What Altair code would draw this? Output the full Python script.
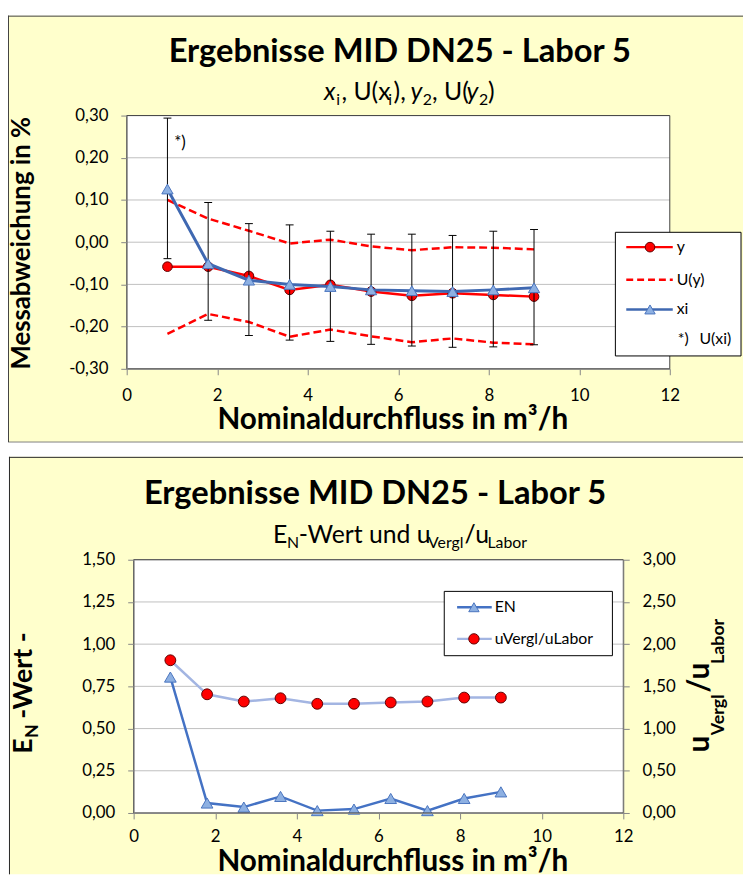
import altair as alt
import pandas as pd

# ---------------- data ----------------
flow = [0.9, 1.8, 2.7, 3.6, 4.5, 5.4, 6.3, 7.2, 8.1, 9.0]
y_lab = [-0.058, -0.058, -0.080, -0.113, -0.101, -0.117, -0.127, -0.121, -0.125, -0.129]
u_y_upper = [0.100, 0.056, 0.027, -0.003, 0.006, -0.010, -0.019, -0.012, -0.013, -0.017]
u_y_lower = [-0.217, -0.170, -0.189, -0.224, -0.207, -0.223, -0.237, -0.228, -0.238, -0.242]
xi_ref = [0.126, -0.051, -0.090, -0.100, -0.105, -0.113, -0.115, -0.117, -0.113, -0.108]
u_xi_upper = [0.294, 0.094, 0.044, 0.041, 0.026, 0.019, 0.019, 0.016, 0.026, 0.030]
u_xi_lower = [-0.039, -0.185, -0.221, -0.232, -0.235, -0.242, -0.246, -0.249, -0.248, -0.243]
en_value = [0.805, 0.059, 0.035, 0.098, 0.014, 0.023, 0.086, 0.014, 0.086, 0.125]
u_ratio = [1.809, 1.406, 1.320, 1.359, 1.293, 1.293, 1.309, 1.320, 1.367, 1.367]

x_ticks = [0, 2, 4, 6, 8, 10, 12]
y_ticks_top = [-0.3, -0.2, -0.1, 0.0, 0.1, 0.2, 0.3]
y_ticks_en = [0.0, 0.25, 0.5, 0.75, 1.0, 1.25, 1.5]
y_ticks_ratio = [0.0, 0.5, 1.0, 1.5, 2.0, 2.5, 3.0]

# ---------------- canvas / panel geometry (pixels inside the view) ----------------
W, H = 743, 871
TOP_PLOT = (120, 669, 104, 360)      # x1, x2, y1, y2
BOT_PLOT = (127, 622, 553, 809)

FONT = "Lato"
AX = "#868686"
YELLOW = "#FFFFCC"
GRID = "#BFBFBF"
RED = "#FF0000"
RED_EDGE = "#600000"
BLUE = "#3F68B1"
TRI_FILL = "#8DB0E2"
TRI_EDGE = "#4A74BE"
LIGHT_BLUE = "#A3B5E2"
ONE = pd.DataFrame({"d": [0]})
LBL = "replace(replace(format(datum.value, '.2f'), '.', ','), '\u2212', '-')"

CW = {' ': 0.193, ',': 0.196, '(': 0.294, ')': 0.294, '*': 0.375, '-': 0.362, '/': 0.366,
      '2': 0.58, 'E': 0.565, 'L': 0.491, 'N': 0.743, 'U': 0.713, 'V': 0.69, 'W': 1.02,
      'a': 0.491, 'b': 0.56, 'd': 0.56, 'e': 0.516, 'g': 0.498, 'i': 0.33, 'l': 0.236,
      'n': 0.558, 'o': 0.558, 'r': 0.368, 't': 0.345, 'u': 0.558, 'x': 0.5, 'y': 0.5}


def tw(s, size, bold=False):
    return sum(CW.get(c, 0.55) for c in s) * size * (1.04 if bold else 1.0)


def txt(s, x, y, size, weight="normal", style="normal", align="left",
        baseline="alphabetic", angle=0, color="#000000"):
    kw = dict(text=s, align=align, baseline=baseline, font=FONT, fontSize=size,
              fontWeight=weight, fontStyle=style, color=color)
    if angle:
        kw["angle"] = angle
    return alt.Chart(ONE).mark_text(**kw).encode(x=alt.value(x), y=alt.value(y))


def rich(pieces, center, base, angle=0):
    total = sum(tw(p[0], p[1], p[2] == "bold") for p in pieces)
    pos = -total / 2
    out = []
    for t, size, weight, style, dy in pieces:
        lead = len(t) - len(t.lstrip(" "))
        off = pos + tw(" " * lead, size, weight == "bold")
        s = t.strip(" ")
        if s:
            if angle == 0:
                out.append(txt(s, center + off, base + dy, size, weight, style))
            else:
                out.append(txt(s, base + dy, center - off, size, weight, style, angle=270))
        pos += tw(t, size, weight == "bold")
    return out


def hline(x1, x2, y, color, width=1.0, dash=None):
    kw = dict(color=color, strokeWidth=width)
    if dash:
        kw["strokeDash"] = dash
    return alt.Chart(ONE).mark_rule(**kw).encode(x=alt.value(x1), x2=alt.value(x2), y=alt.value(y))


def vline(x, y1, y2, color, width=1.0):
    return alt.Chart(ONE).mark_rule(color=color, strokeWidth=width).encode(
        x=alt.value(x), y=alt.value(y1), y2=alt.value(y2))


def box(x1, x2, y1, y2, fill, stroke=None):
    kw = dict(fill=fill)
    if stroke:
        kw.update(stroke=stroke, strokeWidth=1)
    else:
        kw.update(strokeWidth=0)
    return alt.Chart(ONE).mark_rect(**kw).encode(
        x=alt.value(x1), x2=alt.value(x2), y=alt.value(y1), y2=alt.value(y2))


def frame(p, stroke):
    return alt.Chart(ONE).mark_rect(fill="#FFFFFF", fillOpacity=0, stroke=stroke, strokeWidth=1).encode(
        x=alt.value(p[0]), x2=alt.value(p[1]), y=alt.value(p[2]), y2=alt.value(p[3]))


def marker(x, y, shape, size, fill, stroke):
    return alt.Chart(ONE).mark_point(shape=shape, filled=True, size=size, fill=fill, stroke=stroke,
                                     strokeWidth=1, opacity=1).encode(x=alt.value(x), y=alt.value(y))


def xaxis(y_pos, pad):
    return alt.Axis(values=x_ticks, format="d", title=None, grid=False, zindex=1, orient="bottom",
                    offset=y_pos - H, labelFont=FONT, labelFontSize=17, labelColor="#000000",
                    tickSize=6, tickColor=AX, domainColor=AX, labelPadding=pad, labelFlush=False)


def yaxis(vals, orient, offset):
    return alt.Axis(values=vals, labelExpr=LBL, title=None, grid=False, zindex=1, orient=orient,
                    offset=offset, labelFont=FONT, labelFontSize=17, labelColor="#000000",
                    tickSize=6, tickColor=AX, domainColor=AX, labelPadding=13)


# scales: each panel gets its own pixel range inside the single view
XT = alt.Scale(domain=[0, 12], range=[TOP_PLOT[0], TOP_PLOT[1]], nice=False, zero=False)
YT = alt.Scale(domain=[-0.3, 0.3], range=[TOP_PLOT[3], TOP_PLOT[2]], nice=False, zero=False)
XB = alt.Scale(domain=[0, 12], range=[BOT_PLOT[0], BOT_PLOT[1]], nice=False, zero=False)
YE = alt.Scale(domain=[0, 1.5], range=[BOT_PLOT[3], BOT_PLOT[2]], nice=False, zero=False)
YR = alt.Scale(domain=[0, 3], range=[BOT_PLOT[3], BOT_PLOT[2]], nice=False, zero=False)

AX_XT = xaxis(TOP_PLOT[3], 13)
AX_YT = yaxis(y_ticks_top, "left", -TOP_PLOT[0])
AX_XB = xaxis(BOT_PLOT[3], 10)
AX_YE = yaxis(y_ticks_en, "left", -BOT_PLOT[0])
AX_YR = yaxis(y_ticks_ratio, "right", BOT_PLOT[1] - W)


def xt(axis=False):
    return alt.X("q:Q", scale=XT, axis=AX_XT if axis else None)


def yt(f, axis=False):
    return alt.Y(f"{f}:Q", scale=YT, axis=AX_YT if axis else None)


df_top = pd.DataFrame({"q": flow, "y": y_lab, "uh": u_y_upper, "ul": u_y_lower,
                       "xi": xi_ref, "eh": u_xi_upper, "el": u_xi_lower})
df_bot = pd.DataFrame({"q": flow, "en": en_value, "ratio": u_ratio})
base_top = alt.Chart(df_top)

layers = []
# ---------------- top panel ----------------
layers += [
    box(0, W, 3, 434, YELLOW),
    hline(0, W, 3.5, "#404040"),
    hline(0, W, 434, "#7F7F7F"),
    vline(0.5, 3, 434, "#404040"),
    box(TOP_PLOT[0], TOP_PLOT[1], TOP_PLOT[2], TOP_PLOT[3], "#FFFFFF"),
    alt.Chart(pd.DataFrame({"g": y_ticks_top})).mark_rule(color=GRID, strokeWidth=1).encode(
        y=yt("g", True), x=alt.value(TOP_PLOT[0]), x2=alt.value(TOP_PLOT[1])),
    base_top.mark_line(color=RED, strokeWidth=2.5, strokeDash=[8, 4]).encode(x=xt(True), y=yt("uh")),
    base_top.mark_line(color=RED, strokeWidth=2.5, strokeDash=[8, 4]).encode(x=xt(), y=yt("ul")),
    base_top.mark_line(color=RED, strokeWidth=2.5).encode(x=xt(), y=yt("y")),
    base_top.mark_point(shape="circle", filled=True, size=95, fill=RED, stroke=RED_EDGE,
                        strokeWidth=1, opacity=1).encode(x=xt(), y=yt("y")),
    base_top.mark_rule(color="#000000", strokeWidth=1).encode(x=xt(), y=yt("el"), y2="eh:Q"),
    base_top.mark_tick(orient="horizontal", size=8, thickness=1, color="#000000", opacity=1).encode(
        x=xt(), y=yt("eh")),
    base_top.mark_tick(orient="horizontal", size=8, thickness=1, color="#000000", opacity=1).encode(
        x=xt(), y=yt("el")),
    base_top.mark_line(color=BLUE, strokeWidth=3).encode(x=xt(), y=yt("xi")),
    base_top.mark_point(shape="triangle-up", filled=True, size=130, fill=TRI_FILL, stroke=TRI_EDGE,
                        strokeWidth=1, opacity=1).encode(x=xt(), y=yt("xi")),
    frame(TOP_PLOT, "#404040"),
    txt("*)", 168, 137, 17),
    # legend
    box(614, 741, 222, 347, "#FFFFFF", "#000000"),
    hline(625, 672, 237, RED, 2.5),
    marker(649, 237, "circle", 95, RED, RED_EDGE),
    txt("y", 676, 237, 16, baseline="middle"),
    hline(625, 672, 270, RED, 2.5, [7, 4]),
    txt("U(y)", 676, 270, 16, baseline="middle"),
    hline(625, 672, 300, BLUE, 2.5),
    marker(649, 300, "triangle-up", 110, TRI_FILL, TRI_EDGE),
    txt("xi", 676, 300, 16, baseline="middle"),
    txt("*)", 677, 330, 16, baseline="middle"),
    txt("U(xi)", 699, 330, 16, baseline="middle"),
    # titles
    txt("Ergebnisse MID DN25 - Labor 5", 396, 40, 33, "bold", align="center", baseline="middle"),
    txt("Messabweichung in %", 14, 233, 26, "bold", align="center", baseline="middle", angle=270),
    txt("Nominaldurchfluss in m\u00b3/h", 389, 412, 30, "bold", align="center", baseline="middle"),
]
layers += rich([
    ("x", 25, "normal", "italic", 0), ("i", 16, "normal", "normal", 5),
    (", U(x", 25, "normal", "normal", 0), ("i", 16, "normal", "normal", 5),
    ("), ", 25, "normal", "normal", 0), ("y", 25, "normal", "italic", 0),
    ("2", 16, "normal", "normal", 5), (", U(", 25, "normal", "normal", 0),
    ("y", 25, "normal", "italic", 0), ("2", 16, "normal", "normal", 5),
    (")", 25, "normal", "normal", 0)], 406, 88)

# ---------------- bottom panel ----------------
layers += [
    box(1, W, 449, H, YELLOW),
    hline(1, W, 449.5, "#262626"),
    vline(1.5, 449, H, "#262626"),
    box(BOT_PLOT[0], BOT_PLOT[1], BOT_PLOT[2], BOT_PLOT[3], "#FFFFFF"),
    alt.Chart(pd.DataFrame({"g": y_ticks_en})).mark_rule(color=GRID, strokeWidth=1).encode(
        y=alt.Y("g:Q", scale=YE, axis=None), x=alt.value(BOT_PLOT[0]), x2=alt.value(BOT_PLOT[1])),
    alt.Chart(df_bot).mark_line(
        color="#4472C4", strokeWidth=2.5,
        point=alt.OverlayMarkDef(shape="triangle-up", filled=True, size=140, fill=TRI_FILL,
                                 stroke=TRI_EDGE, strokeWidth=1, opacity=1)).encode(
        x=alt.X("q:Q", scale=XB, axis=AX_XB),
        y=alt.Y("en:Q", scale=YE, axis=AX_YE)),
    alt.Chart(df_bot).mark_line(
        color=LIGHT_BLUE, strokeWidth=2.5,
        point=alt.OverlayMarkDef(shape="circle", filled=True, size=120, fill=RED,
                                 stroke=RED_EDGE, strokeWidth=1, opacity=1)).encode(
        x=alt.X("q:Q", scale=XB, axis=None),
        y=alt.Y("ratio:Q", scale=YR, axis=AX_YR)),
    frame(BOT_PLOT, "#404040"),
    # legend
    box(441, 611, 585, 650, "#FFFFFF", "#000000"),
    hline(454, 489, 601, "#4472C4", 2.5),
    marker(471, 601, "triangle-up", 110, TRI_FILL, TRI_EDGE),
    txt("EN", 492, 601, 16, baseline="middle"),
    hline(454, 489, 633, LIGHT_BLUE, 2.5),
    marker(471, 633, "circle", 110, RED, RED_EDGE),
    txt("uVergl/uLabor", 492, 633, 16, baseline="middle"),
    # titles
    txt("Ergebnisse MID DN25 - Labor 5", 371, 487, 33, "bold", align="center", baseline="middle"),
    txt("Nominaldurchfluss in m\u00b3/h", 389, 859, 30, "bold", align="center", baseline="middle"),
]
layers += rich([
    ("E", 25, "normal", "normal", 0), ("N", 16, "normal", "normal", 5),
    ("-Wert und u", 25, "normal", "normal", 0), ("Vergl", 16, "normal", "normal", 5),
    ("/u", 25, "normal", "normal", 0), ("Labor", 16, "normal", "normal", 5)], 396, 536)
layers += rich([
    ("E", 27, "bold", "normal", 0), ("N", 18, "bold", "normal", 6),
    (" -Wert -", 27, "bold", "normal", 0)], 687, 24, angle=270)
layers += rich([
    ("u", 30, "bold", "normal", 0), ("Vergl", 18, "bold", "normal", 15),
    ("/u", 30, "bold", "normal", 0), ("Labor", 18, "bold", "normal", 15)], 680, 709, angle=270)

chart = alt.layer(*layers).resolve_scale(x="independent", y="independent").properties(
    width=W, height=H, padding=0, autosize=alt.AutoSizeParams(type="none")
).configure_view(strokeWidth=0)

chart.save("out.html", embed_options={"renderer": "svg", "actions": False})
